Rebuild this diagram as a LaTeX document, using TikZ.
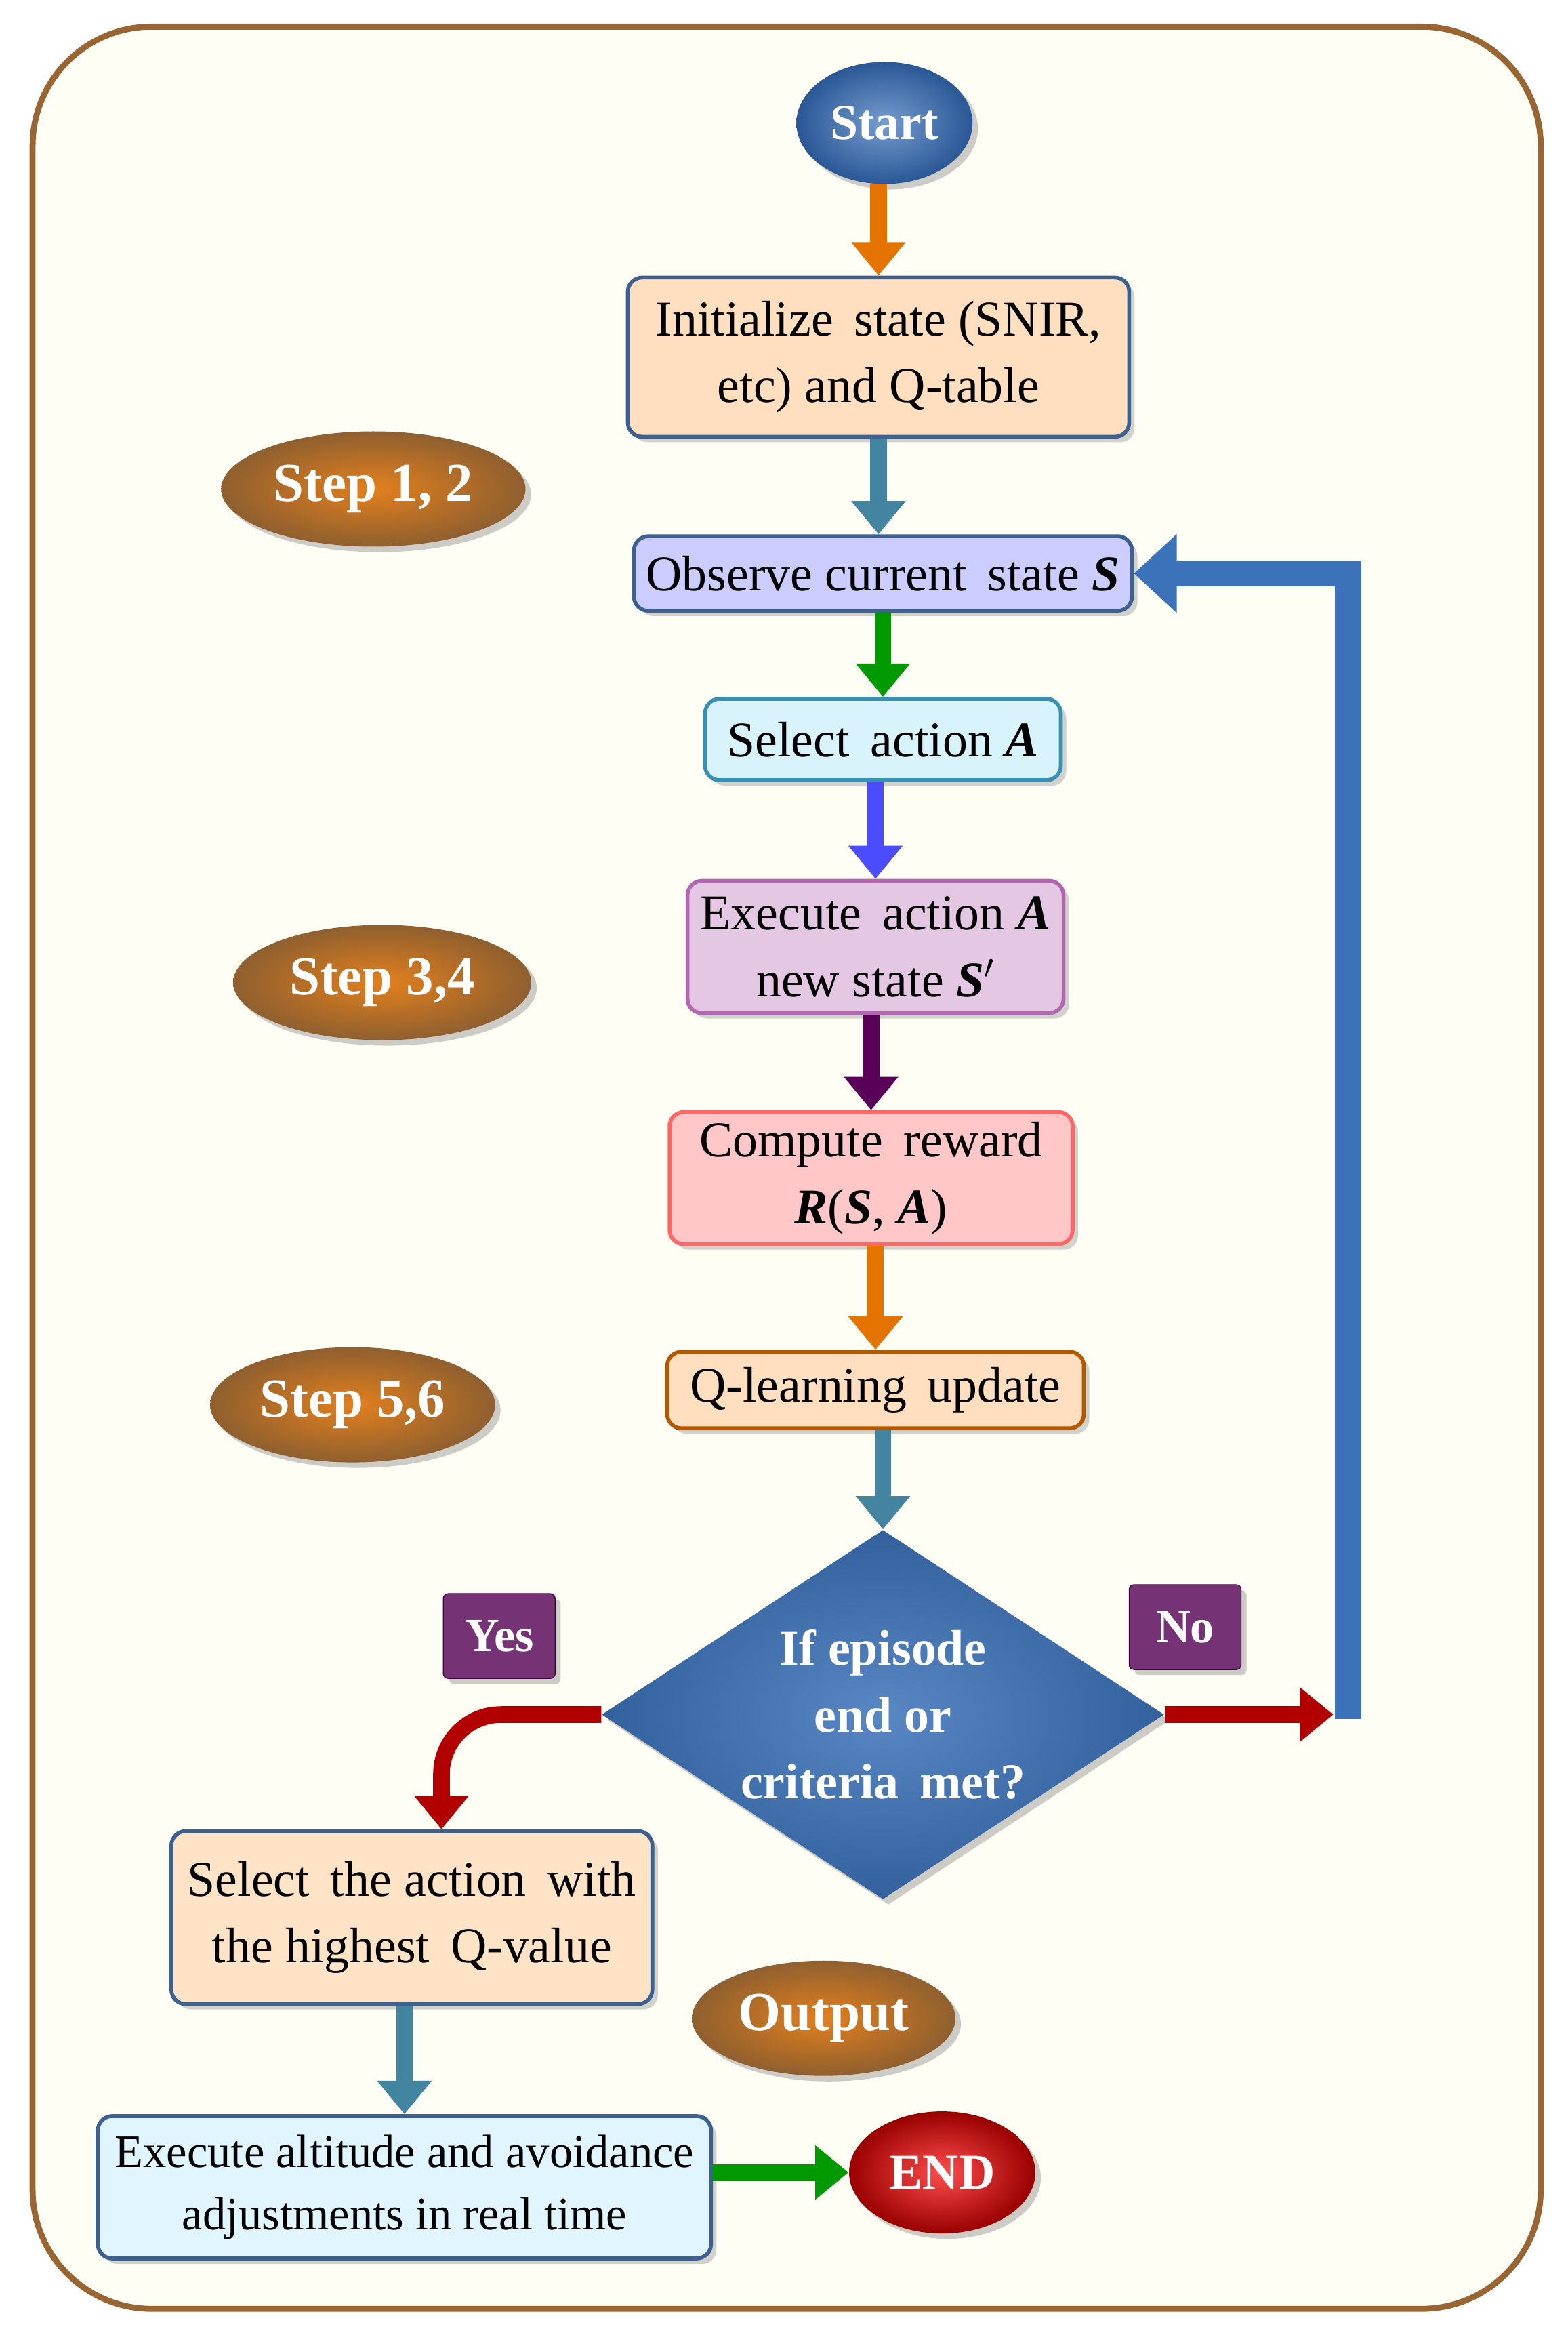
\documentclass[tikz,border=0pt]{standalone}
\usepackage{fontspec}
\setmainfont{Liberation Serif}
\usetikzlibrary{arrows.meta,shapes.geometric,shadows}
\definecolor{sblue}{HTML}{3C72BA}
\definecolor{dblue}{HTML}{2A5896}
\begin{document}
\begin{tikzpicture}[x=0.02186cm,y=-0.02186cm,
 box/.style={draw=dblue!80!gray,line width=1.6pt,rounded corners=6pt,align=center,font=\fontsize{21}{28}\selectfont,drop shadow={opacity=0.35},inner sep=3pt},
 oval/.style={ellipse,draw=none,text=white,font=\bfseries\fontsize{21}{24}\selectfont,drop shadow={opacity=0.4}},
 stepoval/.style={oval,font=\bfseries\fontsize{23}{26}\selectfont,inner color=orange!55!brown,outer color=brown!75!black},
 lab/.style={draw=violet!50!black,fill=violet!65!black!80,text=white,font=\bfseries\fontsize{20}{22}\selectfont,minimum width=1.65cm,minimum height=1.25cm,rounded corners=2pt,drop shadow={opacity=0.4}},
 blk/.style={line width=7pt,-{Triangle[length=14pt,width=22pt]}}]
\useasboundingbox (0,0) rectangle (1058,1573);
\draw[draw=brown!80!black,line width=2.5pt,fill=yellow!4,rounded corners=50pt] (22,18) rectangle (1040,1558);
\node[oval,minimum width=2.6cm,minimum height=1.8cm,inner color=sblue!70!white,outer color=dblue] (start) at (597,83) {Start};
\node[box,fill=orange!25,minimum width=7.4cm,minimum height=2.35cm] (init) at (593,241) {Initialize\, state (SNIR,\\etc) and Q-table};
\node[stepoval,minimum width=4.3cm,minimum height=1.7cm] (s12) at (252,330) {Step 1, 2};
\node[box,fill=blue!20,minimum width=7.35cm,minimum height=1.1cm] (obs) at (596,387) {Observe current\, state \textbf{\textit{S}}};
\node[box,fill=cyan!15,draw=cyan!70!black,minimum width=5.25cm,minimum height=1.2cm] (sel) at (596,499) {Select\, action \textbf{\textit{A}}};
\node[box,fill=violet!22,draw=violet!60,minimum width=5.55cm,minimum height=1.95cm] (exe) at (591,639) {Execute\, action \textbf{\textit{A}}\\ new state \textbf{\textit{S$'$}}};
\node[stepoval,minimum width=4.4cm,minimum height=1.7cm] (s34) at (258,663) {Step 3,4};
\node[box,fill=red!22,draw=red!60,minimum width=5.95cm,minimum height=1.95cm] (rew) at (588,795) {Compute\, reward\\ \textbf{\textit{R}}(\textbf{\textit{S}}, \textbf{\textit{A}})};
\node[box,fill=orange!25,draw=orange!70!black,minimum width=6.15cm,minimum height=1.13cm] (ql) at (591,938) {Q-learning\, update};
\node[stepoval,minimum width=4.0cm,minimum height=1.7cm] (s56) at (238,948) {Step 5,6};
\node[diamond,draw=none,inner color=sblue!85!white,outer color=sblue!85!black,aspect=1.52,minimum width=8.3cm,minimum height=5.45cm,text=white,font=\bfseries\fontsize{21}{28}\selectfont,align=center,drop shadow={opacity=0.4},inner sep=0pt] (dec) at (596,1157) {If episode\\end or\\criteria\, met?};
\node[lab] (no) at (800,1098) {No};
\node[lab] (yes) at (337,1104) {Yes};
\node[box,fill=orange!22,minimum width=7.1cm,minimum height=2.55cm] (hi) at (278,1294) {Select\, the action\, with\\the highest\, Q-value};
\node[stepoval,minimum width=3.6cm,minimum height=1.7cm] (out) at (556,1362) {Output};
\node[box,fill=cyan!12,minimum width=9.05cm,minimum height=2.1cm,font=\fontsize{19.5}{26}\selectfont,inner sep=1pt] (alt) at (273,1476) {Execute altitude and avoidance\\adjustments in real time};
\node[oval,minimum width=2.75cm,minimum height=1.8cm,inner color=red!70,outer color=red!60!black] (end) at (636,1466) {END};
\draw[blk,orange!90!black] (start.south -| init.north) -- (init.north);
\draw[blk,cyan!60!black] (init.south) -- (init.south |- obs.north);
\draw[blk,green!60!black] (obs.south -| sel.north) -- (sel.north);
\draw[blk,blue!70] (sel.south -| exe.north) -- (exe.north);
\draw[blk,violet!70!black] (exe.south -| rew.north) -- (rew.north);
\draw[blk,orange!90!black] (rew.south -| ql.north) -- (ql.north);
\draw[blk,cyan!60!black] (ql.south -| dec.north) -- (dec.north);
\draw[blk,cyan!60!black] (hi.south -| alt.north) -- (alt.north);
\draw[blk,green!60!black] (alt.east |- end.west) -- (end.west);
\coordinate (n1) at (900,1157);
\draw[line width=7pt,red!70!black,-{Triangle[length=14pt,width=22pt]}] (dec.east) -- (n1);
\draw[line width=11pt,sblue,-{Triangle[length=18pt,width=32pt]}] (910,1160) -- (910,387) -- (obs.east);
\draw[line width=7pt,red!70!black,-{Triangle[length=14pt,width=22pt]},rounded corners=25pt] (dec.west) -- (298,1157) -- (hi.north -| 298,0);
\end{tikzpicture}
\end{document}
